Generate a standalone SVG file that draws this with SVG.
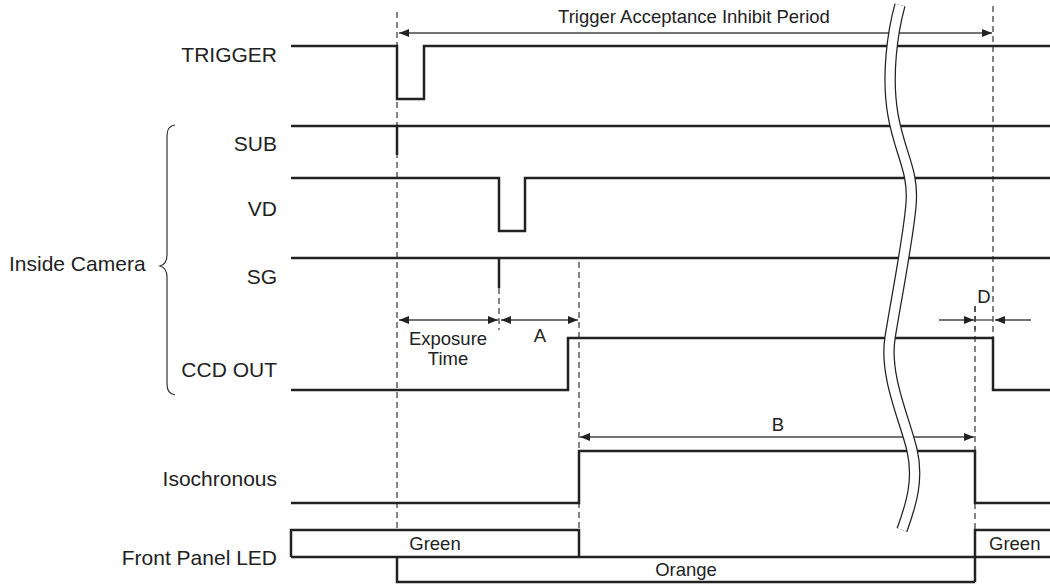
<svg xmlns="http://www.w3.org/2000/svg" width="1050" height="584" viewBox="0 0 1050 584">
<style>
text{font-family:"Liberation Sans",Arial,sans-serif;font-size:18.5px;fill:#222}
.lbl{text-anchor:end;font-size:21px}
.big{font-size:21px}
.mid{text-anchor:middle}
.sig{fill:none;stroke:#222;stroke-width:2.5;stroke-linejoin:miter}
.dash{fill:none;stroke:#333;stroke-width:1.2;stroke-dasharray:6,4}
.dim{fill:none;stroke:#444;stroke-width:1.3}
</style>
<defs>
<marker id="ah" viewBox="0 0 10 8" refX="10" refY="4" markerWidth="10" markerHeight="8" markerUnits="userSpaceOnUse" orient="auto-start-reverse">
<path d="M0,0 L10,4 L0,8 z" fill="#222"/>
</marker>
</defs>
<rect width="1050" height="584" fill="#fff"/>

<g id="guides">
<line class="dash" x1="397" y1="12" x2="397" y2="528"/>
<line class="dash" x1="579" y1="262" x2="579" y2="530"/>
<line class="dash" x1="499" y1="288" x2="499" y2="330"/>
<line class="dash" x1="975" y1="306" x2="975" y2="451"/>
<line class="dash" x1="975" y1="503" x2="975" y2="530"/>
<line class="dash" x1="993" y1="6" x2="993" y2="338"/>
</g>

<g id="signals">
<g id="trigger"><path class="sig" d="M291,46 H397 V99 H424 V46 H1050"/><text class="lbl" x="277" y="62">TRIGGER</text></g>
<g id="sub"><path class="sig" d="M291,126 H1050 M397,126 V155"/><text class="lbl" x="277" y="151">SUB</text></g>
<g id="vd"><path class="sig" d="M291,178 H499 V231 H525 V178 H1050"/><text class="lbl" x="277" y="216">VD</text></g>
<g id="sg"><path class="sig" d="M291,258 H1050 M499,258 V288"/><text class="lbl" x="277" y="284">SG</text></g>
<g id="ccdout"><path class="sig" d="M291,390 H568 V338 H993 V390 H1050"/><text class="lbl" x="277" y="377">CCD OUT</text></g>
<g id="isochronous"><path class="sig" d="M291,503 H579 V451 H975 V503 H1050"/><text class="lbl" x="277" y="486">Isochronous</text></g>
<g id="led">
<path class="sig" d="M291,557 V530 H579 V557 M291,557 H1050 M397,557 V582 H975 M975,582 V530 H1050"/>
<text class="mid" x="435" y="550">Green</text>
<text class="mid" x="686" y="576">Orange</text>
<text x="989" y="550">Green</text>
<text class="lbl" x="277" y="565">Front Panel LED</text>
</g>
</g>

<g id="inside-camera">
<path d="M175,125 Q167,126 167,136 V255 Q167,264 160,266 Q167,268 167,277 V384 Q167,394 175,395" fill="none" stroke="#333" stroke-width="1.2"/>
<text class="big" x="9" y="271">Inside Camera</text>
</g>

<g id="connectors">
<line class="dim" x1="399" y1="33" x2="992" y2="33" marker-start="url(#ah)" marker-end="url(#ah)"/>
<line class="dim" x1="399" y1="320" x2="498" y2="320" marker-start="url(#ah)" marker-end="url(#ah)"/>
<line class="dim" x1="501" y1="320" x2="578" y2="320" marker-start="url(#ah)" marker-end="url(#ah)"/>
<line class="dim" x1="580" y1="437" x2="974" y2="437" marker-start="url(#ah)" marker-end="url(#ah)"/>
<line class="dim" x1="939" y1="320" x2="974" y2="320" marker-end="url(#ah)"/>
<line class="dim" x1="975" y1="320" x2="993" y2="320"/>
<line class="dim" x1="1031" y1="320" x2="995" y2="320" marker-end="url(#ah)"/>
<line class="dash" x1="975" y1="306" x2="975" y2="330"/>
</g>

<g id="dim-labels">
<text class="mid" x="694" y="23">Trigger Acceptance Inhibit Period</text>
<text class="mid" x="448" y="345">Exposure</text>
<text class="mid" x="448" y="365">Time</text>
<text class="mid" x="540" y="342">A</text>
<text class="mid" x="778" y="431">B</text>
<text class="mid" x="984" y="303">D</text>
</g>

<g id="break">
<path d="M900,5 C893,30 886,75 893,115 S914,170 911,205 S896,300 890,338 S905,420 912,450 S911,505 902,530" fill="none" stroke="#222" stroke-width="11.5"/>
<path d="M900,5 C893,30 886,75 893,115 S914,170 911,205 S896,300 890,338 S905,420 912,450 S911,505 902,530" fill="none" stroke="#fff" stroke-width="9"/>
</g>
</svg>
